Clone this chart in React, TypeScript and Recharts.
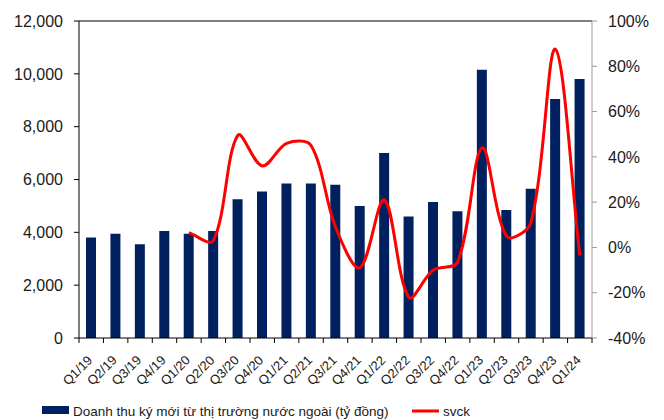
import React from "react";
import {
  ComposedChart,
  Bar,
  Line,
  XAxis,
  YAxis,
  Legend,
  ReferenceLine,
} from "recharts";

const quarters = [
  "Q1/19", "Q2/19", "Q3/19", "Q4/19",
  "Q1/20", "Q2/20", "Q3/20", "Q4/20",
  "Q1/21", "Q2/21", "Q3/21", "Q4/21",
  "Q1/22", "Q2/22", "Q3/22", "Q4/22",
  "Q1/23", "Q2/23", "Q3/23", "Q4/23",
  "Q1/24",
];

// doanh thu ký mới từ thị trường nước ngoài (tỷ đồng)
const revenue = [
  3800, 3950, 3550, 4050,
  3950, 4050, 5250, 5550,
  5850, 5850, 5800, 5000,
  7000, 4600, 5150, 4800,
  10150, 4850, 5650, 9050,
  9800,
];

// svck, %
const yoy: (number | null)[] = [
  null, null, null, null,
  6.5, 3, 49.5, 36,
  46, 45, 9, -9,
  21, -22, -10, -6.5,
  44, 5, 11, 87.5,
  -3.5,
];

const leftTicks = [0, 2000, 4000, 6000, 8000, 10000, 12000];
const rightTicks = [-40, -20, 0, 20, 40, 60, 80, 100];

const BAR_LABEL = "Doanh thu ký mới từ thị trường nước ngoài (tỷ đồng)";
const LINE_LABEL = "svck";

const FONT = "'Liberation Sans', Arial, sans-serif";
const NAVY = "#002060";
const RED = "#ff0000";

const data = quarters.map((q, i) => ({
  quarter: q,
  revenue: revenue[i],
  yoy: yoy[i],
}));

const dist = (a: number[], b: number[]) => Math.hypot(b[0] - a[0], b[1] - a[1]);

// excel-like smoothing: catmull-rom tangents, arms scaled by chord length
function smoothCurve(context: any) {
  let pts: number[][] = [];
  return {
    areaStart() {},
    areaEnd() {},
    lineStart() {
      pts = [];
    },
    point(x: number, y: number) {
      pts.push([+x, +y]);
    },
    lineEnd() {
      if (!pts.length) return;
      context.moveTo(pts[0][0], pts[0][1]);
      for (let i = 0; i < pts.length - 1; i++) {
        const p0 = pts[i - 1] || pts[i];
        const p1 = pts[i];
        const p2 = pts[i + 1];
        const p3 = pts[i + 2] || p2;
        const d01 = dist(p0, p1);
        const d12 = dist(p1, p2);
        const d23 = dist(p2, p3);
        const k1 = d01 + d12 > 0 ? d12 / (d01 + d12) / 3 : 0;
        const k2 = d12 + d23 > 0 ? d12 / (d12 + d23) / 3 : 0;
        context.bezierCurveTo(
          p1[0] + (p2[0] - p0[0]) * k1,
          p1[1] + (p2[1] - p0[1]) * k1,
          p2[0] - (p3[0] - p1[0]) * k2,
          p2[1] - (p3[1] - p1[1]) * k2,
          p2[0],
          p2[1]
        );
      }
    },
  };
}

function QuarterTick(props: any) {
  const { x, y, payload, index } = props;
  const half = payload.offset || 12.2;
  const tx = x + 2;
  const ty = y + 23;
  return (
    <g>
      <line x1={x - half} x2={x - half} y1={y} y2={y + 5} stroke="#000" />
      {index === quarters.length - 1 && (
        <line x1={x + half} x2={x + half} y1={y} y2={y + 5} stroke="#000" />
      )}
      <text
        x={tx}
        y={ty}
        textAnchor="end"
        fontSize={13}
        fill="#1a1a1a"
        fontFamily={FONT}
        transform={`rotate(-45, ${tx}, ${ty})`}
      >
        {payload.value}
      </text>
    </g>
  );
}

function ChartLegend() {
  return (
    <svg width={664} height={32} style={{ display: "block" }}>
      <rect x={42} y={18} width={27} height={8} fill={NAVY} />
      <text x={73} y={28} fontSize={13.5} fill="#1a1a1a" fontFamily={FONT}>
        {BAR_LABEL}
      </text>
      <line x1={412} x2={439} y1={23} y2={23} stroke={RED} strokeWidth={3} />
      <text x={443} y={28} fontSize={13.5} fill="#1a1a1a" fontFamily={FONT}>
        {LINE_LABEL}
      </text>
    </svg>
  );
}

export default function App() {
  return (
    <div style={{ position: "absolute", left: 0, top: 0, background: "#fff" }}>
      <ComposedChart
        width={664}
        height={420}
        data={data}
        margin={{ top: 21, right: 7, left: 9, bottom: 0 }}
        barCategoryGap={0}
      >
        <XAxis
          dataKey="quarter"
          interval={0}
          height={50}
          tickSize={0}
          tickMargin={0}
          tickLine={false}
          axisLine={{ stroke: "#000" }}
          tick={<QuarterTick />}
        />
        <YAxis
          yAxisId="left"
          orientation="left"
          width={70}
          domain={[0, 12000]}
          ticks={leftTicks}
          interval={0}
          tickSize={5}
          tickMargin={11}
          axisLine={{ stroke: "#000" }}
          tickLine={{ stroke: "#000" }}
          tick={{ fontSize: 16, fill: "#1a1a1a", fontFamily: FONT }}
          tickFormatter={(v: number) => v.toLocaleString("en-US")}
        />
        <YAxis
          yAxisId="right"
          orientation="right"
          width={65}
          domain={[-40, 100]}
          ticks={rightTicks}
          interval={0}
          tickSize={5}
          tickMargin={11}
          axisLine={{ stroke: "#9a9a9a" }}
          tickLine={{ stroke: "#9a9a9a" }}
          tick={{ fontSize: 16, fill: "#1a1a1a", fontFamily: FONT }}
          tickFormatter={(v: number) => `${v}%`}
        />
        <ReferenceLine yAxisId="left" y={12000} stroke="#000" />
        <Bar
          yAxisId="left"
          dataKey="revenue"
          name={BAR_LABEL}
          fill={NAVY}
          barSize={10}
          isAnimationActive={false}
        />
        <Line
          yAxisId="right"
          dataKey="yoy"
          name={LINE_LABEL}
          type={smoothCurve as any}
          stroke={RED}
          strokeWidth={3}
          dot={false}
          activeDot={false}
          isAnimationActive={false}
        />
        <Legend
          verticalAlign="bottom"
          height={32}
          content={() => <ChartLegend />}
          wrapperStyle={{ left: 0, width: 664 }}
        />
      </ComposedChart>
    </div>
  );
}
